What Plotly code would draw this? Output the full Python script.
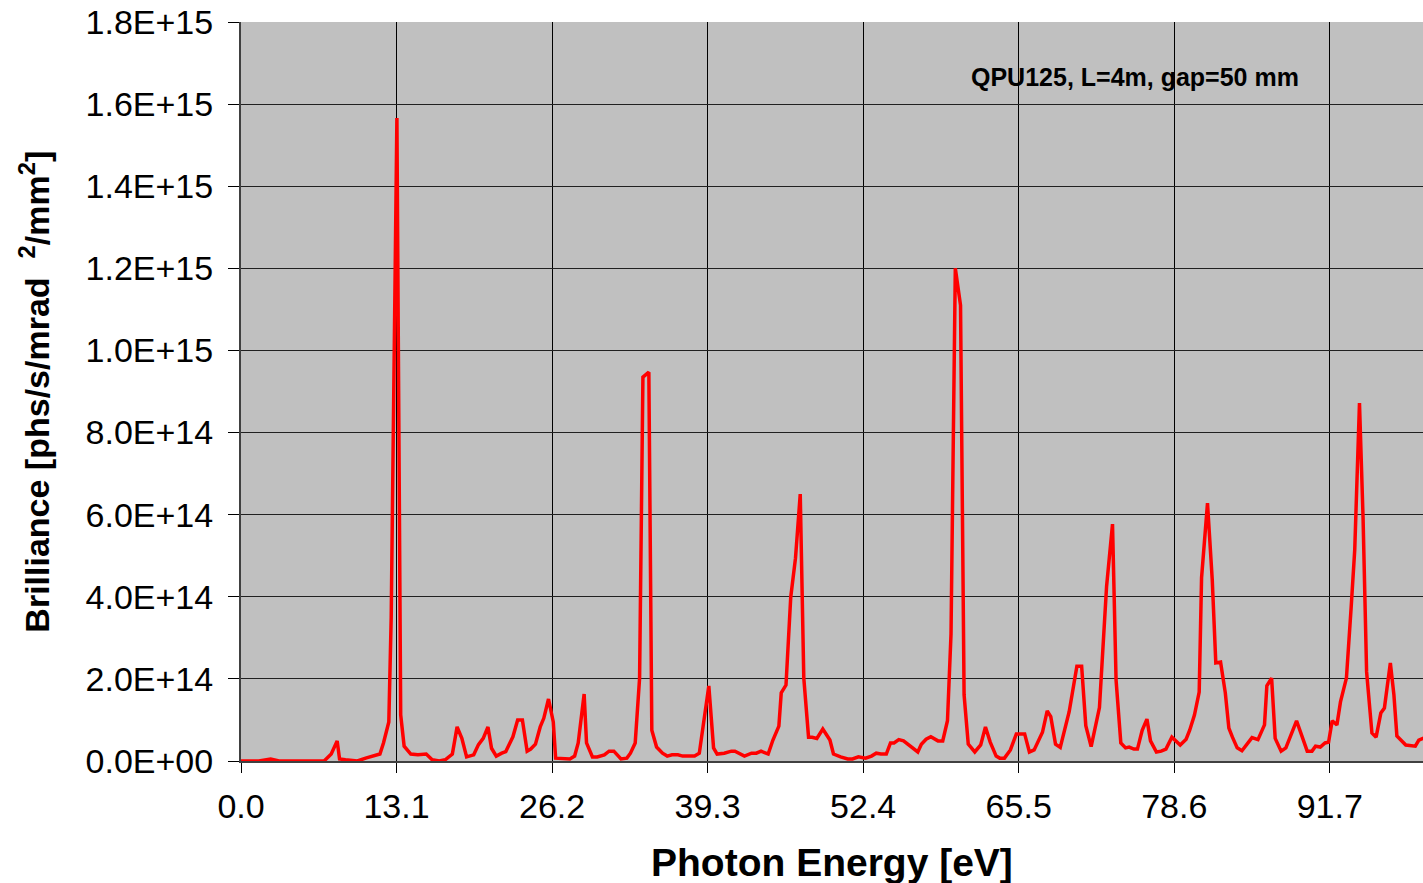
import plotly.graph_objects as go

energy = [0.0, 1.5, 2.5, 3.2, 7.0, 7.6, 8.1, 8.3, 8.8, 9.8, 10.5, 10.9, 11.7, 12.0, 12.45, 12.65,
          13.13, 13.45, 13.74, 14.3, 14.9, 15.6, 16.1, 16.7, 17.2, 17.8, 18.2, 18.6, 19.0, 19.6,
          20.0, 20.4, 20.8, 21.1, 21.5, 21.96, 22.3, 22.9, 23.3, 23.7, 24.1, 24.4, 24.8, 25.2,
          25.5, 25.9, 26.3, 26.5, 27.1, 27.7, 28.1, 28.4, 28.9, 29.1, 29.6, 30.0, 30.6, 31.0,
          31.4, 32.0, 32.5, 32.8, 33.2, 33.57, 33.85, 34.35, 34.6, 35.0, 35.5, 35.9, 36.3, 36.8,
          37.2, 38.2, 38.6, 38.96, 39.4, 39.8, 40.1, 40.7, 41.3, 41.6, 42.0, 42.4, 43.0, 43.4,
          43.8, 44.4, 44.8, 45.3, 45.5, 45.9, 46.3, 46.7, 47.1, 47.4, 47.8, 48.1, 48.5, 49.0,
          49.6, 49.9, 50.5, 51.1, 51.5, 52.0, 52.6, 53.1, 53.5, 53.9, 54.35, 54.7, 55.0, 55.4,
          55.8, 56.5, 57.0, 57.3, 57.7, 58.1, 58.4, 58.7, 59.1, 59.5, 59.8, 60.16, 60.6, 60.9,
          61.25, 61.8, 62.3, 62.7, 63.1, 63.6, 63.9, 64.3, 64.8, 65.3, 66.0, 66.4, 66.8, 67.1,
          67.5, 67.9, 68.2, 68.6, 69.0, 69.75, 70.4, 70.8, 71.15, 71.6, 71.9, 72.3, 72.6, 72.9,
          73.4, 73.7, 74.1, 74.5, 74.8, 75.2, 75.5, 75.9, 76.3, 76.6, 77.1, 77.5, 77.9, 78.4,
          79.1, 79.6, 79.9, 80.3, 80.7, 80.9, 81.4, 81.8, 82.1, 82.5, 82.9, 83.2, 83.5, 83.9,
          84.3, 84.7, 85.15, 85.65, 86.2, 86.4, 86.8, 87.1, 87.6, 88.0, 88.9, 89.8, 90.2, 90.5,
          90.9, 91.3, 91.6, 91.9, 92.3, 92.6, 93.1, 93.5, 93.8, 94.2, 94.5, 94.8, 95.25, 95.6,
          96.0, 96.3, 96.8, 97.1, 97.35, 98.1, 98.9, 99.2, 99.6]

# brilliance in units of 1e14 phs/s/mrad^2/mm^2
brilliance_e14 = [0.0, 0.0, 0.05, 0.0, 0.0, 0.17, 0.49, 0.05, 0.03, 0.0, 0.07, 0.10, 0.17, 0.44, 0.95, 3.5,
                  15.66, 1.12, 0.36, 0.17, 0.15, 0.17, 0.03, 0.0, 0.03, 0.17, 0.83, 0.55, 0.10, 0.15,
                  0.40, 0.55, 0.83, 0.31, 0.12, 0.19, 0.23, 0.59, 1.0, 1.0, 0.24, 0.29, 0.41, 0.83,
                  1.04, 1.51, 0.95, 0.07, 0.05, 0.05, 0.12, 0.44, 1.63, 0.44, 0.10, 0.10, 0.15, 0.24,
                  0.24, 0.05, 0.07, 0.19, 0.44, 2.02, 9.35, 9.47, 0.75, 0.34, 0.19, 0.12, 0.15, 0.15,
                  0.12, 0.12, 0.19, 0.93, 1.83, 0.32, 0.17, 0.19, 0.24, 0.24, 0.17, 0.12, 0.19, 0.19,
                  0.24, 0.17, 0.51, 0.85, 1.66, 1.85, 3.99, 4.94, 6.50, 2.02, 0.58, 0.58, 0.55, 0.78,
                  0.51, 0.17, 0.10, 0.05, 0.05, 0.10, 0.07, 0.12, 0.19, 0.17, 0.17, 0.44, 0.44, 0.52,
                  0.49, 0.34, 0.22, 0.41, 0.53, 0.59, 0.55, 0.49, 0.49, 0.98, 3.1, 12.0, 11.1, 1.61,
                  0.41, 0.22, 0.39, 0.83, 0.46, 0.12, 0.07, 0.07, 0.27, 0.66, 0.66, 0.22, 0.27, 0.46,
                  0.70, 1.22, 1.08, 0.41, 0.33, 1.2, 2.31, 2.31, 0.86, 0.35, 0.75, 1.3, 2.78, 4.25,
                  5.77, 1.97, 0.44, 0.32, 0.34, 0.29, 0.29, 0.75, 1.02, 0.49, 0.22, 0.24, 0.29, 0.58,
                  0.39, 0.53, 0.75, 1.12, 1.68, 4.46, 6.28, 4.41, 2.39, 2.41, 1.66, 0.80, 0.58, 0.32,
                  0.25, 0.40, 0.57, 0.52, 0.88, 1.83, 2.02, 0.55, 0.24, 0.32, 0.98, 0.24, 0.24, 0.36,
                  0.34, 0.44, 0.46, 0.98, 0.88, 1.44, 2.02, 3.75, 5.14, 8.72, 5.94, 2.17, 0.68, 0.58,
                  1.17, 1.29, 2.39, 1.61, 0.61, 0.39, 0.36, 0.51, 0.56]

x_tick_vals = [0.0, 13.1, 26.2, 39.3, 52.4, 65.5, 78.6, 91.7]
x_tick_text = ["0.0", "13.1", "26.2", "39.3", "52.4", "65.5", "78.6", "91.7"]
y_tick_vals = [0, 2e14, 4e14, 6e14, 8e14, 1e15, 1.2e15, 1.4e15, 1.6e15, 1.8e15]
y_tick_text = ["0.0E+00", "2.0E+14", "4.0E+14", "6.0E+14", "8.0E+14",
               "1.0E+15", "1.2E+15", "1.4E+15", "1.6E+15", "1.8E+15"]

brilliance = [v * 1e14 for v in brilliance_e14]

fig = go.Figure()
fig.add_trace(go.Scatter(x=energy, y=brilliance, mode="lines",
                         line=dict(color="#FF0000", width=3.5), showlegend=False,
                         cliponaxis=True))

font_family = "Liberation Sans, Arial, sans-serif"

fig.update_layout(
    width=1423, height=883,
    margin=dict(l=241, r=0, t=22, b=122),
    paper_bgcolor="white",
    plot_bgcolor="#C0C0C0",
    font=dict(family=font_family, color="black"),
    xaxis=dict(range=[0, 99.55], tickmode="array", tickvals=x_tick_vals, ticktext=x_tick_text,
               showgrid=True, gridcolor="black", gridwidth=1, zeroline=False,
               showline=True, linecolor="#404040", linewidth=2,
               ticks="outside", ticklen=10, tickcolor="black", tickwidth=1,
               tickfont=dict(size=34, family=font_family), ticklabelstandoff=4),
    yaxis=dict(range=[0, 1.8e15], tickmode="array", tickvals=y_tick_vals, ticktext=y_tick_text,
               showgrid=True, gridcolor="#202020", gridwidth=1, zeroline=False,
               showline=True, linecolor="#404040", linewidth=2,
               ticks="outside", ticklen=11, tickcolor="black", tickwidth=1,
               tickfont=dict(size=34, family=font_family), ticklabelstandoff=8),
    annotations=[
        dict(text="<b>Photon Energy [eV]</b>", xref="paper", yref="paper", x=0.5, y=-0.137,
             xanchor="center", yanchor="middle", showarrow=False,
             font=dict(size=39, family=font_family)),
        dict(text="<b>Brilliance [phs/s/mrad\u00a0\u00a0<sup>2</sup>/mm<sup>2</sup>]</b>",
             xref="paper", yref="paper", x=-0.175, y=0.5, textangle=-90,
             xanchor="center", yanchor="middle", showarrow=False,
             font=dict(size=34, family=font_family)),
        dict(text="<b>QPU125, L=4m, gap=50 mm</b>", xref="paper", yref="paper",
             x=(1135 - 241) / 1182, y=(761 - 77) / 739, xanchor="center", yanchor="middle",
             showarrow=False, font=dict(size=25, family=font_family)),
    ],
)

fig.write_html("out.html")
